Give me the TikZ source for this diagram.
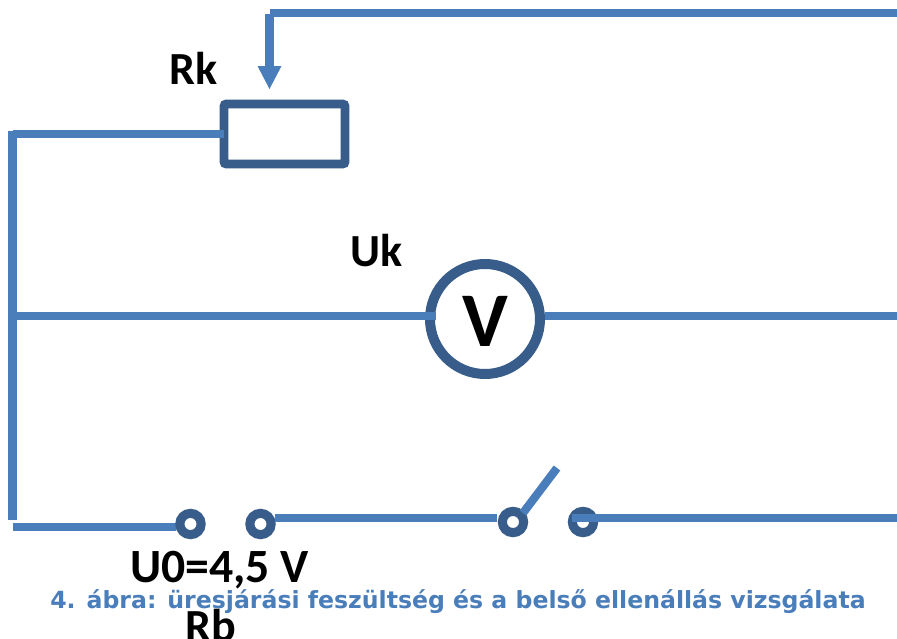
\documentclass[tikz,border=0pt]{standalone}
\usepackage{fontspec}
\setmainfont{Carlito}
\newfontfamily\capfont{DejaVu Sans}
\definecolor{wire}{HTML}{4A7EBB}
\definecolor{dark}{HTML}{385D8A}
\tikzset{
  wireline/.style={draw=wire,line width=6.2pt},
  term/.style={circle,draw=dark,line width=6.8pt,fill=white,inner sep=0pt,minimum size=16pt,outer sep=0pt},
  lab/.style={anchor=base,inner sep=0pt,font=\fontsize{34.5}{40}\selectfont\bfseries,text=black},
}
\begin{document}
\begin{tikzpicture}[x=0.75pt,y=-0.75pt]
\useasboundingbox (0,0) rectangle (897,639);
\fill[white] (0,0) rectangle (897,639);
% named free ends
\coordinate (topR) at (897,13);
\coordinate (topL) at (269.5,13);
\coordinate (vTop) at (269.5,13.5);
\coordinate (tip) at (269.5,89);
\coordinate (shaft) at (269.5,66);
\coordinate (cornerTop) at (12.5,134);
\coordinate (cornerBot) at (12.5,520);
\coordinate (vertTop) at (12.5,131);
\coordinate (midL) at (12.5,316);
\coordinate (midR) at (897,316);
\coordinate (botL) at (12.5,527);
\coordinate (botR) at (897,518);
\coordinate (armEnd) at (557,468);
\coordinate (armStart) at (523,513);
\coordinate (rkEnd) at (224,134);
\coordinate (vEndL) at (436,316);
\coordinate (w2s) at (497,518);
\coordinate (w2e) at (275,518);
\coordinate (w3s) at (572,518);
\coordinate (t1in) at (176,527);
% components
\node[draw=dark,line width=6.4pt,rounded corners=1.5pt,minimum width=90.75pt,minimum height=45pt,inner sep=0pt,outer sep=0pt] (rk) at (284.5,134) {};
\node[circle,draw=dark,line width=7.5pt,fill=white,minimum size=82.5pt,inner sep=0pt] (vm) at (485,319) {};
\node[anchor=base,inner sep=0pt,font=\fontsize{58}{60}\selectfont\bfseries] (vt) at (485,346) {V};
% wires
\draw[wireline] (botL) -- (t1in);
\node[term] (t1) at (190.5,524) {};
\node[term] (t2) at (260.5,524) {};
\node[term] (s1) at (513,522) {};
\node[term] (s2) at (583,522) {};
\draw[wireline] (topR) -- (topL);
\draw[wireline] (vTop) -- (shaft);
\fill[wire] (257.5,66) -- (281.5,66) -- (tip) -- cycle;
\draw[wireline] (cornerBot) -- (vertTop);
\draw[wireline] (cornerTop) -- (rkEnd);
\draw[wireline] (midL) -- (vEndL);
\draw[wireline] (vm.east |- midR) -- (midR);
\draw[wireline] (w2e) -- (w2s);
\draw[wireline] (armStart) -- (armEnd);
\draw[wireline] (w3s) -- (botR);
% labels
\node[lab] (rkl) at (193.5,84) {Rk};
\node[lab] (ukl) at (377,266) {Uk};
\node[lab,font=\fontsize{35.8}{40}\selectfont\bfseries] (u0l) at (219.5,582) {U0=4,5 V};
\node[anchor=base,inner sep=0pt,font=\capfont\fontsize{17.7}{20}\selectfont\bfseries,text=wire] (cap) at (458,608) {4. ábra: üresjárási feszültség és a belső ellenállás vizsgálata};
\node[lab] (rbl) at (210.5,641) {Rb};
\end{tikzpicture}
\end{document}
